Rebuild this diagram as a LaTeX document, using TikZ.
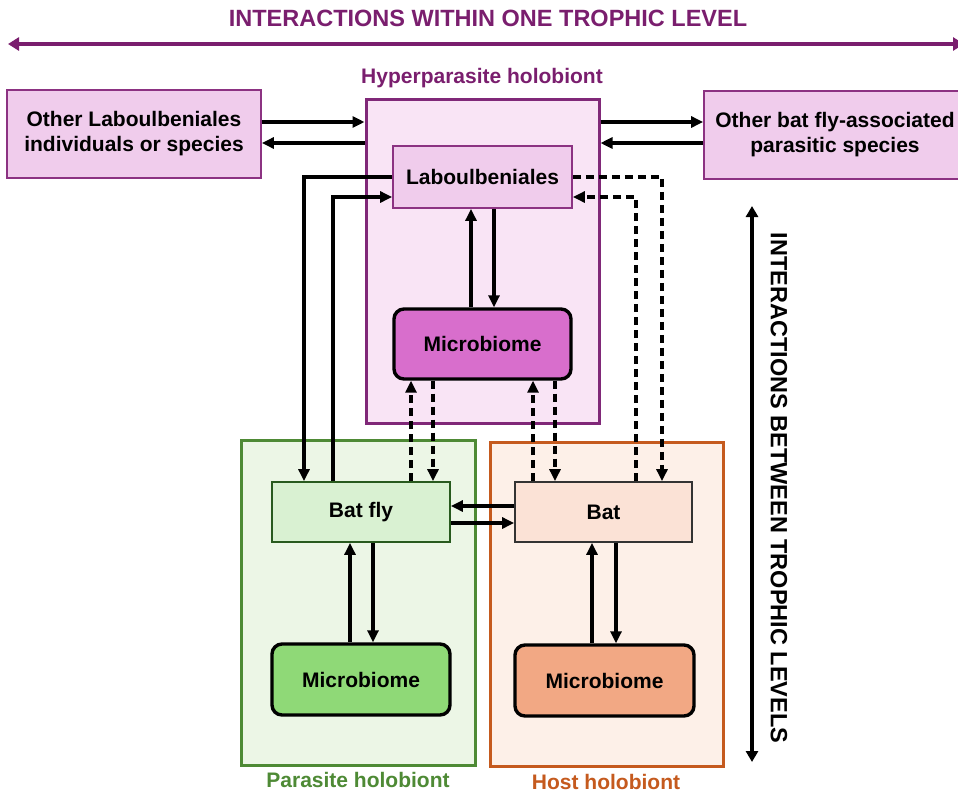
\documentclass[tikz,border=0pt]{standalone}
\usepackage{fontspec}
\setmainfont{Liberation Sans}
\usetikzlibrary{arrows.meta,calc}
\definecolor{titlepurple}{RGB}{122,30,110}
\definecolor{hyperborder}{RGB}{128,40,120}
\definecolor{hyperfill}{RGB}{249,228,245}
\definecolor{pinkfill}{RGB}{240,204,236}
\definecolor{pinkborder}{RGB}{140,50,130}
\definecolor{micropurple}{RGB}{216,110,204}
\definecolor{greenborder}{RGB}{78,138,53}
\definecolor{greenfill}{RGB}{236,246,230}
\definecolor{batflyfill}{RGB}{217,241,210}
\definecolor{batflyborder}{RGB}{40,90,30}
\definecolor{microgreen}{RGB}{143,217,119}
\definecolor{orangeborder}{RGB}{197,90,30}
\definecolor{orangefill}{RGB}{253,240,232}
\definecolor{batfill}{RGB}{251,226,214}
\definecolor{microorange}{RGB}{242,168,132}
\tikzset{
  lbl/.style={font=\fontsize{21}{25}\selectfont\bfseries, align=center, inner sep=0pt},
  holo/.style={draw, line width=3pt, inner sep=0pt},
  inner/.style={lbl, draw, line width=1.8pt},
  micro/.style={lbl, draw=black, line width=3.4pt, rounded corners=10pt},
  arr/.style={line width=3.3pt, -{Triangle[length=12pt,width=11pt]}},
  darr/.style={arr, dash pattern=on 8pt off 5pt},
}
\begin{document}
\begin{tikzpicture}[x=1pt,y=-1pt]
\useasboundingbox (0,0) rectangle (958,793);
\clip (0,0) rectangle (958,793);
\fill[white] (0,0) rectangle (958,793);

% titles and axis arrows
\node[lbl, font=\fontsize{23.5}{26}\selectfont\bfseries, text=titlepurple] (toptitle) at (488,18) {INTERACTIONS WITHIN ONE TROPHIC LEVEL};
\coordinate (hL) at (8,44);
\coordinate (hR) at (964,44);
\draw[titlepurple, line width=4.2pt, {Triangle[length=11pt,width=13pt]}-{Triangle[length=11pt,width=13pt]}] (hL) -- (hR);

\coordinate (vT) at (752,206);
\coordinate (vB) at (752,762);
\draw[line width=3.8pt, {Triangle[length=11pt,width=12pt]}-{Triangle[length=11pt,width=12pt]}] (vT) -- (vB);
\node[lbl, font=\fontsize{23.5}{26}\selectfont\bfseries, rotate=-90] (sidetitle) at (779,488) {INTERACTIONS BETWEEN TROPHIC LEVELS};

% holobiont containers
\node[holo, draw=hyperborder, fill=hyperfill, minimum width=233pt, minimum height=324pt] (hyper) at (482.5,261) {};
\node[holo, draw=greenborder, fill=greenfill, minimum width=234pt, minimum height=325pt] (parasite) at (358,602.5) {};
\node[holo, draw=orangeborder, fill=orangefill, minimum width=233pt, minimum height=324pt] (host) at (606.5,604) {};

\node[lbl, text=titlepurple] (hyperlbl) at (482,78) {Hyperparasite holobiont};
\node[lbl, text=greenborder] (paralbl) at (358,780) {Parasite holobiont};
\node[lbl, text=orangeborder] (hostlbl) at (606,782) {Host holobiont};

% side boxes
\node[inner, draw=pinkborder, fill=pinkfill, minimum width=254pt, minimum height=88pt] (otherL) at (134,134) {Other Laboulbeniales\\individuals or species};
\node[inner, draw=pinkborder, fill=pinkfill, minimum width=262pt, minimum height=88pt] (otherR) at (835,135) {Other bat fly-associated\\parasitic species};

% inner nodes
\node[inner, draw=pinkborder, fill=pinkfill, minimum width=179pt, minimum height=62pt] (labo) at (482.5,177) {Laboulbeniales};
\node[micro, fill=micropurple, minimum width=177pt, minimum height=70pt] (microP) at (482.5,344) {Microbiome};
\node[inner, draw=batflyborder, fill=batflyfill, minimum width=178pt, minimum height=60pt] (batfly) at (361,512) {Bat fly};
\node[inner, draw=black!80, fill=batfill, minimum width=177pt, minimum height=60pt] (bat) at (603.5,512) {Bat};
\node[micro, fill=microgreen, minimum width=178pt, minimum height=71pt] (microG) at (361,679.5) {Microbiome};
\node[micro, fill=microorange, minimum width=179pt, minimum height=71pt] (microO) at (604.5,680.5) {Microbiome};

% within trophic level
\draw[arr] ([yshift=12pt]otherL.east) -- ([yshift=12pt]otherL.east -| hyper.west);
\draw[arr] ([yshift=-9pt]otherL.east -| hyper.west) -- ([yshift=-9pt]otherL.east);
\draw[arr] ([yshift=13pt]otherR.west -| hyper.east) -- ([yshift=13pt]otherR.west);
\draw[arr] ([yshift=-8pt]otherR.west) -- ([yshift=-8pt]otherR.west -| hyper.east);

% Laboulbeniales <-> Bat fly
\draw[arr] (labo.west) -| ([xshift=-57pt]batfly.north);
\draw[arr] ([xshift=-28pt]batfly.north) |- ([yshift=-20pt]labo.west);
% Laboulbeniales <-> Bat (dashed)
\draw[darr] (labo.east) -| ([xshift=58.5pt]bat.north);
\draw[darr] ([xshift=32.5pt]bat.north) |- ([yshift=-20pt]labo.east);

% Laboulbeniales <-> microbiome
\draw[arr] ([xshift=-11.5pt]microP.north) -- ([xshift=-11.5pt]labo.south);
\draw[arr] ([xshift=11.5pt]labo.south) -- ([xshift=11.5pt]microP.north);

% bat fly / bat <-> hyperparasite microbiome (dashed)
\draw[darr] ([xshift=50pt]batfly.north) -- ([xshift=50pt]batfly.north |- microP.south);
\draw[darr] ([xshift=72pt]batfly.north |- microP.south) -- ([xshift=72pt]batfly.north);
\draw[darr] ([xshift=-70.5pt]bat.north) -- ([xshift=-70.5pt]bat.north |- microP.south);
\draw[darr] ([xshift=-48.5pt]bat.north |- microP.south) -- ([xshift=-48.5pt]bat.north);

% bat fly <-> bat
\draw[arr] ([yshift=6pt]bat.west) -- ([yshift=6pt]bat.west -| batfly.east);
\draw[arr] ([yshift=-11pt]batfly.east) -- ([yshift=-11pt]batfly.east -| bat.west);

% microbiomes <-> organisms
\draw[arr] ([xshift=-11pt]microG.north) -- ([xshift=-11pt]microG.north |- batfly.south);
\draw[arr] ([xshift=12pt]microG.north |- batfly.south) -- ([xshift=12pt]microG.north);
\draw[arr] ([xshift=-12.5pt]microO.north) -- ([xshift=-12.5pt]microO.north |- bat.south);
\draw[arr] ([xshift=11.5pt]microO.north |- bat.south) -- ([xshift=11.5pt]microO.north);
\end{tikzpicture}
\end{document}
